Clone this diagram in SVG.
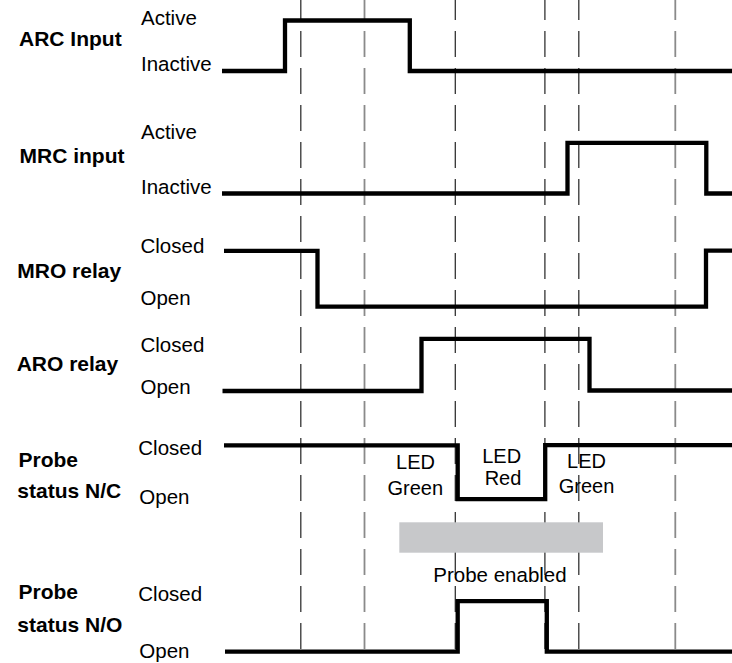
<svg xmlns="http://www.w3.org/2000/svg" width="732" height="663" viewBox="0 0 732 663">
<style>
.lbl{font-family:"Liberation Sans",Arial,sans-serif;font-size:21px;font-weight:bold;fill:#000}
.st{font-family:"Liberation Sans",Arial,sans-serif;font-size:20.5px;fill:#000}
.led{font-family:"Liberation Sans",Arial,sans-serif;font-size:20px;fill:#000;text-anchor:middle}
.sig{fill:none;stroke:#000;stroke-width:4.3;stroke-linejoin:miter;stroke-linecap:butt}
.dk{stroke:#333;stroke-width:1.3;stroke-dasharray:26 11;stroke-dashoffset:6}
.gr{stroke:#8a8a8a;stroke-width:1.8;stroke-dasharray:26 11;stroke-dashoffset:6}
</style>
<rect width="732" height="663" fill="#fff"/>
<g id="guides">
<line class="dk" x1="300.8" y1="0" x2="300.8" y2="650"/>
<line class="gr" x1="364.5" y1="0" x2="364.5" y2="650"/>
<line class="dk" x1="455.3" y1="0" x2="455.3" y2="650"/>
<line class="dk" x1="544.9" y1="0" x2="544.9" y2="650"/>
<line class="dk" x1="578.8" y1="0" x2="578.8" y2="650"/>
<line class="gr" x1="675.3" y1="0" x2="675.3" y2="650"/>
</g>
<g id="probe-enabled">
<rect x="399.3" y="522.3" width="203.7" height="30.4" fill="#c7c8ca"/>
<text class="st" x="500" y="581.7" text-anchor="middle">Probe enabled</text>
</g>
<g id="arc-input">
<text class="lbl" x="19" y="45.7">ARC Input</text>
<text class="st" x="141" y="25">Active</text>
<text class="st" x="141" y="71">Inactive</text>
<path class="sig" d="M222,71 H285 V20.5 H409.8 V71 H732"/>
</g>
<g id="mrc-input">
<text class="lbl" x="19.5" y="163">MRC input</text>
<text class="st" x="141" y="139.3">Active</text>
<text class="st" x="141" y="193.5">Inactive</text>
<path class="sig" d="M222,193.5 H567.5 V142.8 H706.3 V193.5 H732"/>
</g>
<g id="mro-relay">
<text class="lbl" x="17.3" y="278">MRO relay</text>
<text class="st" x="140.5" y="253">Closed</text>
<text class="st" x="140.5" y="305">Open</text>
<path class="sig" d="M224,250.8 H317.5 V306.7 H706 V250.6 H732"/>
</g>
<g id="aro-relay">
<text class="lbl" x="16.7" y="370.7">ARO relay</text>
<text class="st" x="140.5" y="352">Closed</text>
<text class="st" x="140.5" y="394">Open</text>
<path class="sig" d="M222.5,391 H421.5 V338.8 H589.5 V390.5 H732"/>
</g>
<g id="probe-nc">
<text class="lbl" x="18.5" y="466.7">Probe</text>
<text class="lbl" x="17.3" y="498">status N/C</text>
<text class="st" x="138.3" y="455">Closed</text>
<text class="st" x="139.3" y="504">Open</text>
<path class="sig" d="M224,445.3 H457.7 V499.2 H545.2 V445.1 H732"/>
<text class="led" x="415.5" y="469.3">LED</text>
<text class="led" x="415.3" y="494.5">Green</text>
<text class="led" x="501.7" y="463.3">LED</text>
<text class="led" x="503" y="484.7">Red</text>
<text class="led" x="586.5" y="467.7">LED</text>
<text class="led" x="586.5" y="493">Green</text>
</g>
<g id="probe-no">
<text class="lbl" x="18.5" y="599.3">Probe</text>
<text class="lbl" x="17.3" y="631.7">status N/O</text>
<text class="st" x="138.3" y="600.7">Closed</text>
<text class="st" x="139.3" y="657.7">Open</text>
<path class="sig" d="M225,651.7 H457.7 V601.2 H546.8 V651.7 H732"/>
</g>
</svg>
